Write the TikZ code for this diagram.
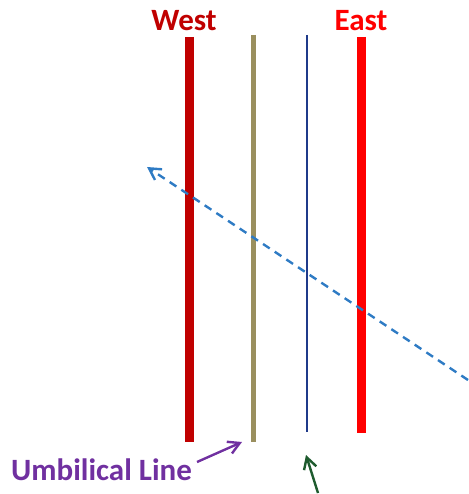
\documentclass[tikz,border=0pt]{standalone}
\usepackage{fontspec}
\setmainfont{Carlito}
\usetikzlibrary{arrows.meta}
\definecolor{westred}{HTML}{C00000}
\definecolor{eastred}{HTML}{FF0000}
\definecolor{cordkhaki}{HTML}{9A8F5E}
\definecolor{linenavy}{HTML}{1F3A8A}
\definecolor{raysky}{HTML}{2E7BC4}
\definecolor{labelpurple}{HTML}{7030A0}
\definecolor{pointgreen}{HTML}{1E5B2E}

\begin{document}
\begin{tikzpicture}[x=1pt, y=-1pt,
  sidelabel/.style={font=\fontsize{31}{33}\selectfont\bfseries, inner sep=0pt},
  pointer/.style={-{Straight Barb[length=4mm, width=4.5mm]}, line width=2.4pt}
]
\useasboundingbox (0,0) rectangle (468,494);
% vertical lines
\draw[westred, line width=9pt] (189.5,37) -- (189.5,442);
\draw[cordkhaki, line width=5pt] (253,35) -- (253,442);
\draw[linenavy, line width=2.2pt] (307,35) -- (307,432);
\draw[eastred, line width=9pt] (361.5,37) -- (361.5,433);
% labels
\node[sidelabel, text=westred] (west) at (184,21) {West};
\node[sidelabel, text=eastred] (east) at (361,21) {East};
\node[sidelabel, text=labelpurple, anchor=west] (umbilical) at (11,470) {Umbilical Line};
% arrows
\coordinate (raystart) at (468,380);
\coordinate (rayend) at (147,167);
\draw[raysky, line width=2.4pt, dash pattern=on 8pt off 6pt,
  -{Straight Barb[length=4mm, width=4.5mm]}] (raystart) -- (rayend);
\coordinate (cordfoot) at (242,442);
\draw[pointer, labelpurple] ([xshift=5pt, yshift=8pt]umbilical.east) -- (cordfoot);
\coordinate (greentail) at (318,493);
\coordinate (navyfoot) at (306,455);
\draw[pointer, pointgreen] (greentail) -- (navyfoot);
\end{tikzpicture}
\end{document}
